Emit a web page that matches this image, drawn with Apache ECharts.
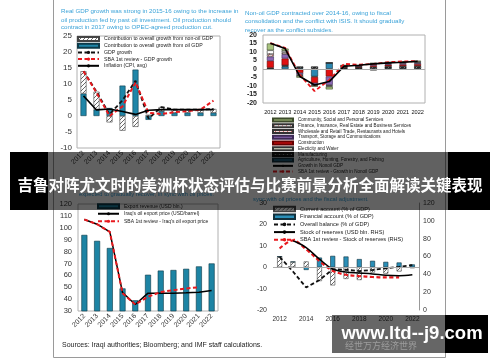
<!DOCTYPE html>
<html>
<head>
<meta charset="utf-8">
<script src="https://cdn.jsdelivr.net/npm/echarts@6/dist/echarts.min.js"></script>
<style>html,body{margin:0;padding:0;background:#fff}#c{width:500px;height:362px}</style>
</head>
<body>
<div id="c"></div>
<script>
// ---------- data ----------
const years = ['2012','2013','2014','2015','2016','2017','2018','2019','2020','2021','2022'];

// Panel 1: real GDP growth
const oilContrib    = [7, 2, 2.5, 9.5, 14.5, -1.2, 1.5, 1, 1, 1, 1];
const nonOilContrib = [7, 5.6, -2, -4.6, -3.4, 0.4, 1.3, 1, 1, 1, 1.2];
const gdpGrowth     = [14, 7.6, 0.5, 4.9, 11, -0.8, 2.8, 2, 2, 2, 2.2];
const sbaGdpGrowth  = [14, 7.3, 0, 3, 10.5, 1, 0.6, 1.2, 1.5, 2, 4.8];
const inflation     = [6.3, 1.9, 2.2, 1.4, 0.5, 1.8, 2, 2, 2, 2, 2];

// Panel 2: non-oil GDP by sector
const agri      = [0, 1.5, 0.5, -4.4, 3.6, 0.1, 0.1, -0.4, 0.2, 0.2, 0.2];
const manuf     = [0.5, 0.5, 1.0, 1.5, 0, 0.9, 0.8, 1.3, 1.3, 1.4, 1.5];
const elec      = [0.3, 0.2, -0.3, -0.3, 0, 0.1, 0.1, -0.4, 0.2, 0.2, 0.2];
const constr    = [4, 4, -2, -3.6, -4.4, 0.4, 0.4, 0.8, 0.8, 0.9, 1.0];
const transport = [2.5, 2.5, -1, -0.8, -5, 0.2, 0.2, 0.5, 0.5, 0.6, 0.6];
const wholesale = [1.5, 1, -0.5, -0.4, -0.5, 0.2, 0.2, 0.3, 0.4, 0.4, 0.4];
const finance   = [2.2, 1, -0.3, -0.3, -0.5, 0.2, 0.2, 0.4, 0.4, 0.5, 0.5];
const community = [4, 1.3, -1, -0.6, -1.6, 0.1, 0.1, 0.2, 0.3, 0.3, 0.4];
const nonOilGrowth    = [15.2, 12, -4.4, -9.4, -7.4, 1.6, 2.2, 3, 3.6, 4, 4.5];
const sbaNonOilGrowth = [15.2, 12.5, -3.5, -13, -6.4, 3, 2.5, 3, 4, 4.5, 4.6];

// Panel 3: exports
const exportRevenue = [94, 89, 83, 49, 39, 60.5, 64, 64.5, 65.5, 67.5, 70];
const oilPrice      = [107, 103, 96.5, 45.5, 35.5, 45, 45, 45, 45.3, 45.8, 47.3];
const sbaOilPrice   = [107, 103, 96.5, 45, 35.5, 42, 46, 47.5, 49, 50, null];

// Panel 4: balance of payments
const currentAcc  = [5, 2.5, 2.7, -6.5, -8.5, -5.5, -6, -2.5, -3, -2, -0.5];
const financialAcc= [0, 0, -1.3, 4.5, 5.3, 5, 3.8, 3, 2.5, 2.2, 1.3];
const overallBal  = [4.8, -2, -9.5, -6, -1, -1.2, -1.8, -1.3, -0.5, 0.2, 1];
const reserves    = [null, 78, 70, 57, 46, 42.5, 41.5, 40.5, 39, 38.5, 39.5];
const sbaReserves = [69, 78, 68, 55, 44, 39.5, 38, 37, 36.5, 36.5, null];

// ---------- styles ----------
const FONT = "'Liberation Sans', Arial, sans-serif";
const TITLE_BLUE = '#3aa2d8';
function pattern(bg, fg, kind) {
  const s = 4, c = document.createElement('canvas');
  c.width = c.height = s;
  const g = c.getContext('2d');
  g.fillStyle = bg; g.fillRect(0, 0, s, s);
  g.fillStyle = fg; g.strokeStyle = fg; g.lineWidth = 1;
  if (kind === 'diag') {
    g.beginPath();
    g.moveTo(0, s); g.lineTo(s, 0);
    g.moveTo(-1, 1); g.lineTo(1, -1);
    g.moveTo(s - 1, s + 1); g.lineTo(s + 1, s - 1);
    g.stroke();
  } else if (kind === 'h') {
    g.fillRect(0, 0, s, 1);
  } else if (kind === 'dot') {
    g.fillRect(1, 1, 1, 1);
  }
  return { image: c, repeat: 'repeat' };
}
const hatchGray = pattern('#ffffff', '#6a6a6a', 'diag');

function barS(name, data, xi, yi, stack, color, border, width) {
  return { type: 'bar', name, data, xAxisIndex: xi, yAxisIndex: yi, stack, barWidth: width,
    itemStyle: { color, borderColor: border, borderWidth: 0.6 }, emphasis: { disabled: true } };
}
function lineS(name, data, xi, yi, color, width, dashed, smooth, z) {
  return { type: 'line', name, data, xAxisIndex: xi, yAxisIndex: yi, symbol: 'none', smooth: smooth || false,
    z: z || 3, connectNulls: false,
    lineStyle: { color, width, type: dashed ? [4, 2.5] : 'solid' }, itemStyle: { color } };
}
function legendBox(left, top, names, lineH, gap, fs, w, h) {
  return {
    orient: 'vertical', left, top, padding: 0, itemGap: gap, itemWidth: w, itemHeight: h,
    selectedMode: false,
    textStyle: { fontSize: fs, lineHeight: lineH, color: '#222', fontFamily: FONT },
    data: names
  };
}

const N1 = ['Contribution to overall growth from non-oil GDP', 'Contribution to overall growth from oil GDP',
  'GDP growth', 'SBA 1st review - GDP growth', 'Inflation (CPI, avg)'];
const N2 = ['Community, Social and Personal Services', 'Finance, Insurance, Real Estate and Business Services',
  'Wholesale and Retail Trade, Restaurants and Hotels', 'Transport, Storage and Communications', 'Construction',
  'Electicity and Water', 'Manufacturing', 'Agriculture, Hunting, Forestry, and Fishing',
  'Growth in Nonoil GDP', 'SBA 1st review - Growth in Nonoil GDP'];
const N3 = ['Export revenue (USD bln.)', "Iraq's oil export price (USD/barrel)", "SBA 1st review - Iraq's oil export price"];
const N4 = ['Current account (% of GDP)', 'Financial account (% of GDP)', 'Overall balance (% of GDP)',
  'Stock of reserves (USD bln. RHS)', 'SBA 1st review - Stock of reserves (RHS)'];
const asRect = (arr, nBars) => arr.map((n, i) => i < nBars ? { name: n, icon: 'rect' } : { name: n });

const catAxis = (gi, rot, fs, extra) => Object.assign({
  type: 'category', gridIndex: gi, data: years, boundaryGap: true,
  axisLine: { show: false, onZero: false }, axisTick: { show: false },
  axisLabel: { rotate: rot, fontSize: fs, color: '#333', fontFamily: FONT, margin: 4, interval: 0 }
}, extra || {});
const valAxis = (gi, min, max, step, fs, margin, extra) => Object.assign({
  type: 'value', gridIndex: gi, min, max, interval: step,
  splitLine: { show: false }, axisLine: { show: false }, axisTick: { show: false },
  axisLabel: { fontSize: fs, color: '#333', fontFamily: FONT, margin }
}, extra || {});

const zeroLine = { silent: true, symbol: 'none', label: { show: false },
  lineStyle: { color: '#aaa', width: 1, type: 'solid' }, data: [{ yAxis: 0 }] };

// ---------- series ----------
const series = [
  // panel 1
  barS(N1[1], oilContrib, 0, 0, 'p1', '#1f86a8', '#0d3b4a', 6),
  barS(N1[0], nonOilContrib, 0, 0, 'p1', hatchGray, '#444', 6),
  lineS(N1[2], gdpGrowth, 0, 0, '#111', 1.8, true),
  lineS(N1[3], sbaGdpGrowth, 0, 0, '#e8191e', 2, true),
  lineS(N1[4], inflation, 0, 0, '#000', 1.6, false),
  // panel 2 (bottom to top)
  barS(N2[7], agri, 1, 1, 'p2', '#2a87b0', '#12313d', 7),
  barS(N2[6], manuf, 1, 1, 'p2', pattern('#2a2a2a', '#8a8a8a', 'diag'), '#111', 7),
  barS(N2[5], elec, 1, 1, 'p2', pattern('#f3f7ea', '#9bb56b', 'h'), '#333', 7),
  barS(N2[4], constr, 1, 1, 'p2', '#e01010', '#600', 7),
  barS(N2[3], transport, 1, 1, 'p2', '#8a67b3', '#3d2a55', 7),
  barS(N2[2], wholesale, 1, 1, 'p2', pattern('#f6dede', '#cc6a6a', 'diag'), '#333', 7),
  barS(N2[1], finance, 1, 1, 'p2', pattern('#ffffff', '#d77', 'dot'), '#333', 7),
  barS(N2[0], community, 1, 1, 'p2', '#a9c47f', '#3c4a2a', 7),
  lineS(N2[9], sbaNonOilGrowth, 1, 1, '#e8191e', 1.8, true),
  Object.assign(lineS(N2[8], nonOilGrowth, 1, 1, '#000', 1.6, false), { markLine: zeroLine }),
  // panel 3
  barS(N3[0], exportRevenue, 2, 2, 'p3', '#1d84a4', '#0b3947', 6),
  lineS(N3[1], oilPrice, 2, 2, '#000', 1.5, false),
  lineS(N3[2], sbaOilPrice, 2, 2, '#e8191e', 2, true),
  // panel 4
  Object.assign(barS(N4[0], currentAcc, 3, 3, 'p4', hatchGray, '#444', 5), { markLine: zeroLine }),
  barS(N4[1], financialAcc, 3, 3, 'p4', '#2a8fb8', '#12313d', 5),
  lineS(N4[2], overallBal, 3, 3, '#111', 1.8, true),
  lineS(N4[4], sbaReserves, 3, 4, '#e8191e', 2.2, true, 0.35),
  lineS(N4[3], reserves, 3, 4, '#000', 1.5, false, 0.35)
];

// ---------- graphics ----------
const txt = (x, y, text, fs, color, extra) => Object.assign({
  type: 'text', x, y, z: 10, silent: true,
  style: { text, fontSize: fs, fontFamily: FONT, fill: color, textVerticalAlign: 'middle' }
}, extra || {});
const rect = (x, y, w, h, fill, z) => ({ type: 'rect', z, silent: true, shape: { x, y, width: w, height: h }, style: { fill } });
const vline = (x1, y1, x2, y2) => ({ type: 'line', z: 5, silent: true, shape: { x1, y1, x2, y2 }, style: { stroke: '#9a9a9a', lineWidth: 1 } });

const graphic = [
  vline(53.5, 0, 53.5, 357.5), vline(445.5, 0, 445.5, 357.5), vline(53.5, 357.5, 445.5, 357.5),
  txt(61, 11.7, 'Real GDP growth was strong in 2015-16 owing to the increase in', 6.2, TITLE_BLUE),
  txt(61, 20, 'oil production fed by past oil investment. Oil production should', 6.2, TITLE_BLUE),
  txt(61, 27.7, 'contract in 2017 owing to OPEC-agreed production cut.', 6.2, TITLE_BLUE),
  txt(245, 13, 'Non-oil GDP contracted over 2014-16, owing to fiscal', 6.2, TITLE_BLUE),
  txt(245, 21.5, 'consolidation and the conflict with ISIS. It should gradually', 6.2, TITLE_BLUE),
  txt(245, 30, 'recover as the conflict subsides.', 6.2, TITLE_BLUE),
  txt(79, 194, 'expected to gradually recover, in sync with oil prices.', 5.8, TITLE_BLUE),
  txt(253, 199, 'sync with oil prices and the fiscal adjustment.', 5.8, TITLE_BLUE),
  txt(62, 345, 'Sources: Iraqi authorities; Bloomberg; and IMF staff calculations.', 7, '#222'),
  // banner
  rect(48, 152, 400, 58, 'rgba(0,0,0,0.62)', 100),
  rect(10, 152, 38, 58, '#000', 100),
  rect(448, 152, 42, 58, '#000', 100),
  txt(250, 185, '', 15.5, '#fff',
    { z: 101, style: { text: '吉鲁对阵尤文时的美洲杯状态评估与比赛前景分析全面解读关键表现', fontSize: 15.5, fontWeight: 'bold',
      fontFamily: "'Noto Sans CJK SC', sans-serif", fill: '#fff', textAlign: 'center', textVerticalAlign: 'middle' } }),
  // watermark
  rect(332, 315, 113, 38, 'rgba(0,0,0,0.6)', 100),
  rect(445, 315, 43, 38, '#000', 100),
  txt(345, 346, '', 9, '#aaa', { z: 101,
    style: { text: '经世万方经济世界', fontSize: 9, fontFamily: "'Noto Sans CJK SC', sans-serif", fill: 'rgba(170,170,170,0.8)', textVerticalAlign: 'middle' } }),
  txt(412, 334, '', 18.5, '#fff', { z: 102,
    style: { text: 'www.ltd--j9.com', fontSize: 18.5, fontWeight: 'bold', fontFamily: FONT, fill: '#fff', textAlign: 'center', textVerticalAlign: 'middle' } })
];

const chart = echarts.init(document.getElementById('c'), null, { renderer: 'canvas' });
chart.setOption({
  animation: false,
  backgroundColor: '#fff',
  grid: [
    { left: 77, top: 36, width: 143, height: 112, show: true, borderColor: '#b0b0b0', borderWidth: 1 },
    { left: 263, top: 35, width: 162, height: 68, show: true, borderColor: '#b0b0b0', borderWidth: 1 },
    { left: 78, top: 204, width: 140, height: 107, show: true, borderColor: '#b0b0b0', borderWidth: 1 },
    { left: 273, top: 203, width: 146, height: 107, show: false }
  ],
  xAxis: [
    catAxis(0, 45, 7),
    catAxis(1, 0, 5.6, { axisLabel: { fontSize: 5.6, color: '#111', fontFamily: FONT, margin: 6, interval: 0 } }),
    catAxis(2, 45, 7),
    catAxis(3, 0, 6.5, { axisLabel: { fontSize: 6.5, color: '#333', fontFamily: FONT, margin: 6, interval: 1 } })
  ],
  yAxis: [
    valAxis(0, -10, 25, 5, 8, 5),
    valAxis(1, -20, 20, 5, 7, 6, { axisLabel: { fontSize: 7, color: '#222', fontWeight: 'bold', fontFamily: FONT, margin: 6 } }),
    valAxis(2, 30, 120, 10, 7.5, 6),
    valAxis(3, -20, 30, 10, 7, 6),
    valAxis(3, 0, 120, 20, 7, 4, { position: 'right', axisLine: { show: true, lineStyle: { color: '#999' } } })
  ],
  legend: [
    legendBox(77, 36, asRect(N1, 2), 6, 0.7, 5.2, 21, 4),
    legendBox(272, 117.5, asRect(N2, 8), 5, 0.73, 4.6, 20, 3),
    legendBox(97, 203, asRect(N3, 1), 6.5, 1, 5, 21, 4),
    legendBox(273, 205.5, asRect(N4, 2), 7, 0.7, 5.6, 21, 4.5)
  ],
  series,
  graphic
});
</script>
</body>
</html>
